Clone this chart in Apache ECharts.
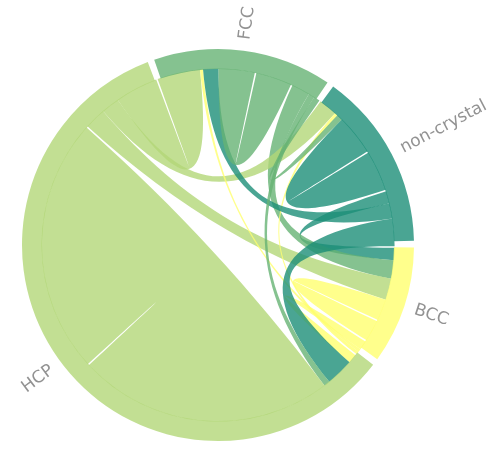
<!DOCTYPE html>
<html>
<head>
<meta charset="utf-8">
<script src="https://cdn.jsdelivr.net/npm/echarts@6/dist/echarts.min.js"></script>
<style>html,body{margin:0;padding:0;background:#fff;}#c{width:499px;height:462px;}</style>
</head>
<body>
<div id="c"></div>
<script>
// categories (clockwise from the top) and their colours
var nodeNames = ['FCC', 'non-crystal', 'BCC', 'HCP'];
var nodeColors = ['#66b374', '#1d8e78', '#ffff6f', '#b3d778'];
// links (source -> target, value)
var linkSources = ['non-crystal', 'FCC', 'BCC', 'HCP', 'HCP', 'HCP', 'BCC', 'BCC', 'non-crystal', 'non-crystal', 'FCC', 'FCC', 'HCP', 'FCC', 'non-crystal', 'BCC'];
var linkTargets = ['BCC', 'BCC', 'HCP', 'BCC', 'non-crystal', 'FCC', 'FCC', 'non-crystal', 'FCC', 'HCP', 'HCP', 'non-crystal', 'HCP', 'FCC', 'non-crystal', 'BCC'];
var linkValues = [4, 6, 3, 7, 6, 14, 1, 1, 5, 9, 2, 2, 83.5, 11.8, 13.2, 7];

var chart = echarts.init(document.getElementById('c'));

// each category is drawn as three consecutive chord nodes:
// incoming ribbons, second end of its self ribbon, outgoing ribbons
var parts = ['in', 'self', 'out'];
var chordNodes = [];
nodeNames.forEach(function (n, i) {
  parts.forEach(function (p) {
    chordNodes.push({ name: n + '|' + p, itemStyle: { color: nodeColors[i] } });
  });
});
var chordLinks = linkSources.map(function (s, i) {
  var t = linkTargets[i];
  if (s === t) {
    return { source: s + '|in', target: s + '|self', value: linkValues[i] };
  }
  return { source: s + '|out', target: t + '|in', value: linkValues[i] };
});
// category totals (every link end counts), used for the outer arcs and labels
var arcData = nodeNames.map(function (n, i) {
  var t = 0;
  linkSources.forEach(function (s, j) {
    if (s === n) t += linkValues[j];
    if (linkTargets[j] === n) t += linkValues[j];
  });
  return { name: n, value: t, itemStyle: { color: nodeColors[i] } };
});

chart.setOption({
  animation: false,
  series: [{
    type: 'chord',
    center: [218, 245],
    radius: [176.6, 196],
    startAngle: 110,
    clockwise: true,
    padAngle: 0.5,
    itemStyle: { opacity: 0, borderWidth: 0, borderRadius: 0 },
    lineStyle: { color: 'source', opacity: 0.8 },
    label: { show: false },
    data: chordNodes,
    links: chordLinks
  }, {
    type: 'pie',
    silent: true,
    center: [218, 245],
    radius: [176, 196],
    startAngle: 110,
    clockwise: true,
    padAngle: 2,
    avoidLabelOverlap: false,
    itemStyle: { opacity: 0.8, borderWidth: 0 },
    label: {
      show: true, position: 'outside', rotate: 'radial',
      color: '#777', fontSize: 17, fontFamily: 'DejaVu Sans',
      distanceToLabelLine: 0
    },
    labelLine: { show: false, length: 11, length2: 0 },
    data: arcData
  }]
});
</script>
</body>
</html>
